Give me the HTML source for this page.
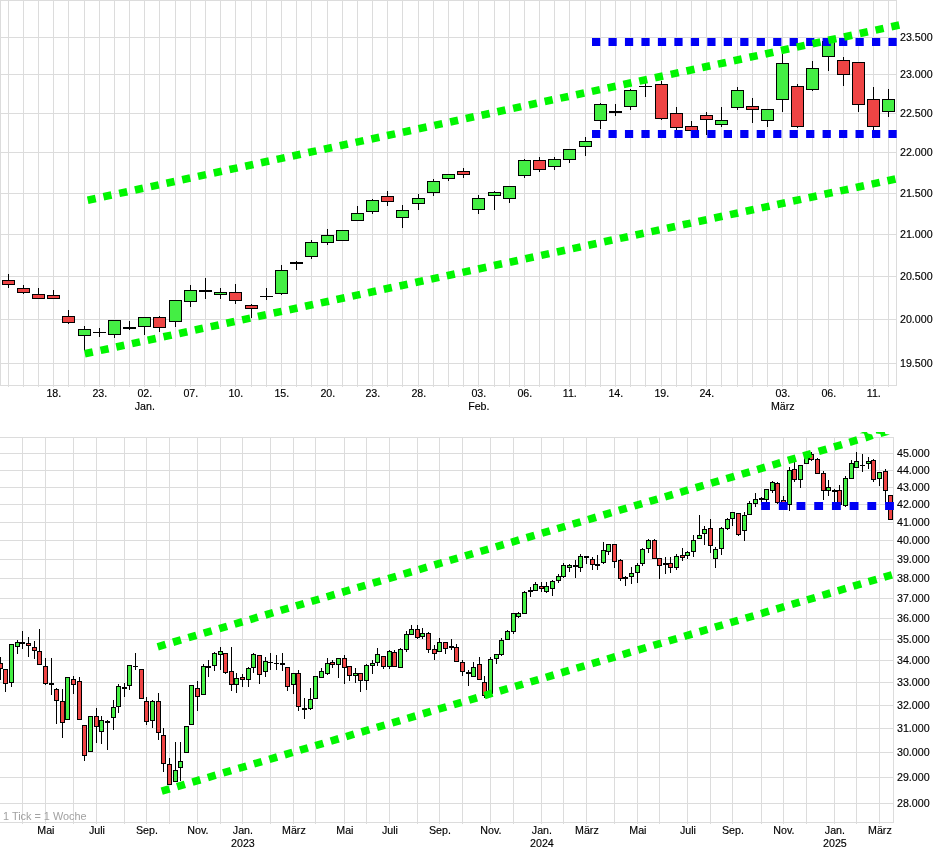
<!DOCTYPE html>
<html><head><meta charset="utf-8"><title>Chart</title>
<style>html,body{margin:0;padding:0;background:#fff}svg{display:block}</style></head>
<body><svg width="941" height="856" viewBox="0 0 941 856">
<rect width="941" height="856" fill="#fff"/>
<g shape-rendering="crispEdges">
<rect x="8" y="0" width="1" height="387" fill="#dcdcdc"/>
<rect x="23" y="0" width="1" height="387" fill="#dcdcdc"/>
<rect x="38" y="0" width="1" height="387" fill="#dcdcdc"/>
<rect x="53" y="0" width="1" height="387" fill="#dcdcdc"/>
<rect x="68" y="0" width="1" height="387" fill="#dcdcdc"/>
<rect x="84" y="0" width="1" height="387" fill="#dcdcdc"/>
<rect x="99" y="0" width="1" height="387" fill="#dcdcdc"/>
<rect x="114" y="0" width="1" height="387" fill="#dcdcdc"/>
<rect x="129" y="0" width="1" height="387" fill="#dcdcdc"/>
<rect x="144" y="0" width="1" height="387" fill="#dcdcdc"/>
<rect x="159" y="0" width="1" height="387" fill="#dcdcdc"/>
<rect x="175" y="0" width="1" height="387" fill="#dcdcdc"/>
<rect x="190" y="0" width="1" height="387" fill="#dcdcdc"/>
<rect x="205" y="0" width="1" height="387" fill="#dcdcdc"/>
<rect x="220" y="0" width="1" height="387" fill="#dcdcdc"/>
<rect x="235" y="0" width="1" height="387" fill="#dcdcdc"/>
<rect x="251" y="0" width="1" height="387" fill="#dcdcdc"/>
<rect x="266" y="0" width="1" height="387" fill="#dcdcdc"/>
<rect x="281" y="0" width="1" height="387" fill="#dcdcdc"/>
<rect x="296" y="0" width="1" height="387" fill="#dcdcdc"/>
<rect x="311" y="0" width="1" height="387" fill="#dcdcdc"/>
<rect x="327" y="0" width="1" height="387" fill="#dcdcdc"/>
<rect x="342" y="0" width="1" height="387" fill="#dcdcdc"/>
<rect x="357" y="0" width="1" height="387" fill="#dcdcdc"/>
<rect x="372" y="0" width="1" height="387" fill="#dcdcdc"/>
<rect x="387" y="0" width="1" height="387" fill="#dcdcdc"/>
<rect x="402" y="0" width="1" height="387" fill="#dcdcdc"/>
<rect x="418" y="0" width="1" height="387" fill="#dcdcdc"/>
<rect x="433" y="0" width="1" height="387" fill="#dcdcdc"/>
<rect x="448" y="0" width="1" height="387" fill="#dcdcdc"/>
<rect x="463" y="0" width="1" height="387" fill="#dcdcdc"/>
<rect x="478" y="0" width="1" height="387" fill="#dcdcdc"/>
<rect x="494" y="0" width="1" height="387" fill="#dcdcdc"/>
<rect x="509" y="0" width="1" height="387" fill="#dcdcdc"/>
<rect x="524" y="0" width="1" height="387" fill="#dcdcdc"/>
<rect x="539" y="0" width="1" height="387" fill="#dcdcdc"/>
<rect x="554" y="0" width="1" height="387" fill="#dcdcdc"/>
<rect x="569" y="0" width="1" height="387" fill="#dcdcdc"/>
<rect x="585" y="0" width="1" height="387" fill="#dcdcdc"/>
<rect x="600" y="0" width="1" height="387" fill="#dcdcdc"/>
<rect x="615" y="0" width="1" height="387" fill="#dcdcdc"/>
<rect x="630" y="0" width="1" height="387" fill="#dcdcdc"/>
<rect x="645" y="0" width="1" height="387" fill="#dcdcdc"/>
<rect x="661" y="0" width="1" height="387" fill="#dcdcdc"/>
<rect x="676" y="0" width="1" height="387" fill="#dcdcdc"/>
<rect x="691" y="0" width="1" height="387" fill="#dcdcdc"/>
<rect x="706" y="0" width="1" height="387" fill="#dcdcdc"/>
<rect x="721" y="0" width="1" height="387" fill="#dcdcdc"/>
<rect x="737" y="0" width="1" height="387" fill="#dcdcdc"/>
<rect x="752" y="0" width="1" height="387" fill="#dcdcdc"/>
<rect x="767" y="0" width="1" height="387" fill="#dcdcdc"/>
<rect x="782" y="0" width="1" height="387" fill="#dcdcdc"/>
<rect x="797" y="0" width="1" height="387" fill="#dcdcdc"/>
<rect x="812" y="0" width="1" height="387" fill="#dcdcdc"/>
<rect x="828" y="0" width="1" height="387" fill="#dcdcdc"/>
<rect x="843" y="0" width="1" height="387" fill="#dcdcdc"/>
<rect x="858" y="0" width="1" height="387" fill="#dcdcdc"/>
<rect x="873" y="0" width="1" height="387" fill="#dcdcdc"/>
<rect x="888" y="0" width="1" height="387" fill="#dcdcdc"/>
<rect x="0" y="37" width="897" height="1" fill="#dcdcdc"/>
<rect x="0" y="74" width="897" height="1" fill="#dcdcdc"/>
<rect x="0" y="113" width="897" height="1" fill="#dcdcdc"/>
<rect x="0" y="152" width="897" height="1" fill="#dcdcdc"/>
<rect x="0" y="193" width="897" height="1" fill="#dcdcdc"/>
<rect x="0" y="234" width="897" height="1" fill="#dcdcdc"/>
<rect x="0" y="276" width="897" height="1" fill="#dcdcdc"/>
<rect x="0" y="319" width="897" height="1" fill="#dcdcdc"/>
<rect x="0" y="363" width="897" height="1" fill="#dcdcdc"/>
<rect x="0" y="0" width="897" height="1" fill="#dcdcdc"/>
<rect x="0" y="385" width="897" height="1" fill="#dcdcdc"/>
<rect x="0" y="0" width="1" height="386" fill="#dcdcdc"/>
<rect x="896" y="0" width="1" height="386" fill="#dcdcdc"/>
<rect x="8" y="274" width="1" height="14" fill="#000"/>
<rect x="2" y="280" width="13" height="5" fill="#000"/>
<rect x="3" y="281" width="11" height="3" fill="#ee4444"/>
<rect x="23" y="285" width="1" height="9" fill="#000"/>
<rect x="17" y="288" width="13" height="5" fill="#000"/>
<rect x="18" y="289" width="11" height="3" fill="#ee4444"/>
<rect x="38" y="288" width="1" height="11" fill="#000"/>
<rect x="32" y="294" width="13" height="5" fill="#000"/>
<rect x="33" y="295" width="11" height="3" fill="#ee4444"/>
<rect x="53" y="290" width="1" height="9" fill="#000"/>
<rect x="47" y="295" width="13" height="4" fill="#000"/>
<rect x="48" y="296" width="11" height="2" fill="#ee4444"/>
<rect x="68" y="310" width="1" height="14" fill="#000"/>
<rect x="62" y="316" width="13" height="7" fill="#000"/>
<rect x="63" y="317" width="11" height="5" fill="#ee4444"/>
<rect x="84" y="326" width="1" height="25" fill="#000"/>
<rect x="78" y="329" width="13" height="7" fill="#000"/>
<rect x="79" y="330" width="11" height="5" fill="#44ee44"/>
<rect x="99" y="328" width="1" height="9" fill="#000"/>
<rect x="93" y="332" width="13" height="1" fill="#000"/>
<rect x="114" y="320" width="1" height="18" fill="#000"/>
<rect x="108" y="320" width="13" height="15" fill="#000"/>
<rect x="109" y="321" width="11" height="13" fill="#44ee44"/>
<rect x="129" y="321" width="1" height="9" fill="#000"/>
<rect x="123" y="327" width="13" height="2" fill="#000"/>
<rect x="144" y="317" width="1" height="18" fill="#000"/>
<rect x="138" y="317" width="13" height="10" fill="#000"/>
<rect x="139" y="318" width="11" height="8" fill="#44ee44"/>
<rect x="159" y="316" width="1" height="16" fill="#000"/>
<rect x="153" y="317" width="13" height="11" fill="#000"/>
<rect x="154" y="318" width="11" height="9" fill="#ee4444"/>
<rect x="175" y="300" width="1" height="27" fill="#000"/>
<rect x="169" y="300" width="13" height="22" fill="#000"/>
<rect x="170" y="301" width="11" height="20" fill="#44ee44"/>
<rect x="190" y="285" width="1" height="22" fill="#000"/>
<rect x="184" y="290" width="13" height="12" fill="#000"/>
<rect x="185" y="291" width="11" height="10" fill="#44ee44"/>
<rect x="205" y="278" width="1" height="21" fill="#000"/>
<rect x="199" y="290" width="13" height="2" fill="#000"/>
<rect x="220" y="288" width="1" height="11" fill="#000"/>
<rect x="214" y="292" width="13" height="3" fill="#000"/>
<rect x="215" y="293" width="11" height="1" fill="#44ee44"/>
<rect x="235" y="284" width="1" height="20" fill="#000"/>
<rect x="229" y="292" width="13" height="9" fill="#000"/>
<rect x="230" y="293" width="11" height="7" fill="#ee4444"/>
<rect x="251" y="304" width="1" height="14" fill="#000"/>
<rect x="245" y="305" width="13" height="4" fill="#000"/>
<rect x="246" y="306" width="11" height="2" fill="#ee4444"/>
<rect x="266" y="288" width="1" height="12" fill="#000"/>
<rect x="260" y="296" width="13" height="1" fill="#000"/>
<rect x="281" y="265" width="1" height="30" fill="#000"/>
<rect x="275" y="270" width="13" height="24" fill="#000"/>
<rect x="276" y="271" width="11" height="22" fill="#44ee44"/>
<rect x="296" y="261" width="1" height="9" fill="#000"/>
<rect x="290" y="262" width="13" height="2" fill="#000"/>
<rect x="311" y="240" width="1" height="19" fill="#000"/>
<rect x="305" y="242" width="13" height="15" fill="#000"/>
<rect x="306" y="243" width="11" height="13" fill="#44ee44"/>
<rect x="327" y="229" width="1" height="16" fill="#000"/>
<rect x="321" y="235" width="13" height="8" fill="#000"/>
<rect x="322" y="236" width="11" height="6" fill="#44ee44"/>
<rect x="342" y="230" width="1" height="11" fill="#000"/>
<rect x="336" y="230" width="13" height="11" fill="#000"/>
<rect x="337" y="231" width="11" height="9" fill="#44ee44"/>
<rect x="357" y="206" width="1" height="15" fill="#000"/>
<rect x="351" y="213" width="13" height="8" fill="#000"/>
<rect x="352" y="214" width="11" height="6" fill="#44ee44"/>
<rect x="372" y="199" width="1" height="15" fill="#000"/>
<rect x="366" y="200" width="13" height="12" fill="#000"/>
<rect x="367" y="201" width="11" height="10" fill="#44ee44"/>
<rect x="387" y="191" width="1" height="15" fill="#000"/>
<rect x="381" y="196" width="13" height="6" fill="#000"/>
<rect x="382" y="197" width="11" height="4" fill="#ee4444"/>
<rect x="402" y="205" width="1" height="23" fill="#000"/>
<rect x="396" y="210" width="13" height="8" fill="#000"/>
<rect x="397" y="211" width="11" height="6" fill="#44ee44"/>
<rect x="418" y="194" width="1" height="16" fill="#000"/>
<rect x="412" y="198" width="13" height="6" fill="#000"/>
<rect x="413" y="199" width="11" height="4" fill="#44ee44"/>
<rect x="433" y="179" width="1" height="17" fill="#000"/>
<rect x="427" y="181" width="13" height="12" fill="#000"/>
<rect x="428" y="182" width="11" height="10" fill="#44ee44"/>
<rect x="448" y="174" width="1" height="7" fill="#000"/>
<rect x="442" y="174" width="13" height="5" fill="#000"/>
<rect x="443" y="175" width="11" height="3" fill="#44ee44"/>
<rect x="463" y="168" width="1" height="10" fill="#000"/>
<rect x="457" y="171" width="13" height="4" fill="#000"/>
<rect x="458" y="172" width="11" height="2" fill="#ee4444"/>
<rect x="478" y="195" width="1" height="19" fill="#000"/>
<rect x="472" y="198" width="13" height="12" fill="#000"/>
<rect x="473" y="199" width="11" height="10" fill="#44ee44"/>
<rect x="494" y="191" width="1" height="19" fill="#000"/>
<rect x="488" y="192" width="13" height="4" fill="#000"/>
<rect x="489" y="193" width="11" height="2" fill="#44ee44"/>
<rect x="509" y="186" width="1" height="17" fill="#000"/>
<rect x="503" y="186" width="13" height="13" fill="#000"/>
<rect x="504" y="187" width="11" height="11" fill="#44ee44"/>
<rect x="524" y="159" width="1" height="19" fill="#000"/>
<rect x="518" y="160" width="13" height="16" fill="#000"/>
<rect x="519" y="161" width="11" height="14" fill="#44ee44"/>
<rect x="539" y="157" width="1" height="15" fill="#000"/>
<rect x="533" y="160" width="13" height="10" fill="#000"/>
<rect x="534" y="161" width="11" height="8" fill="#ee4444"/>
<rect x="554" y="157" width="1" height="13" fill="#000"/>
<rect x="548" y="159" width="13" height="8" fill="#000"/>
<rect x="549" y="160" width="11" height="6" fill="#44ee44"/>
<rect x="569" y="149" width="1" height="14" fill="#000"/>
<rect x="563" y="149" width="13" height="11" fill="#000"/>
<rect x="564" y="150" width="11" height="9" fill="#44ee44"/>
<rect x="585" y="137" width="1" height="19" fill="#000"/>
<rect x="579" y="141" width="13" height="6" fill="#000"/>
<rect x="580" y="142" width="11" height="4" fill="#44ee44"/>
<rect x="600" y="103" width="1" height="26" fill="#000"/>
<rect x="594" y="104" width="13" height="17" fill="#000"/>
<rect x="595" y="105" width="11" height="15" fill="#44ee44"/>
<rect x="615" y="104" width="1" height="12" fill="#000"/>
<rect x="609" y="111" width="13" height="2" fill="#000"/>
<rect x="630" y="89" width="1" height="21" fill="#000"/>
<rect x="624" y="90" width="13" height="17" fill="#000"/>
<rect x="625" y="91" width="11" height="15" fill="#44ee44"/>
<rect x="645" y="83" width="1" height="14" fill="#000"/>
<rect x="639" y="86" width="13" height="1" fill="#000"/>
<rect x="661" y="81" width="1" height="39" fill="#000"/>
<rect x="655" y="84" width="13" height="35" fill="#000"/>
<rect x="656" y="85" width="11" height="33" fill="#ee4444"/>
<rect x="676" y="107" width="1" height="23" fill="#000"/>
<rect x="670" y="113" width="13" height="15" fill="#000"/>
<rect x="671" y="114" width="11" height="13" fill="#ee4444"/>
<rect x="691" y="121" width="1" height="10" fill="#000"/>
<rect x="685" y="126" width="13" height="5" fill="#000"/>
<rect x="686" y="127" width="11" height="3" fill="#ee4444"/>
<rect x="706" y="112" width="1" height="23" fill="#000"/>
<rect x="700" y="115" width="13" height="5" fill="#000"/>
<rect x="701" y="116" width="11" height="3" fill="#ee4444"/>
<rect x="721" y="107" width="1" height="20" fill="#000"/>
<rect x="715" y="120" width="13" height="5" fill="#000"/>
<rect x="716" y="121" width="11" height="3" fill="#44ee44"/>
<rect x="737" y="87" width="1" height="23" fill="#000"/>
<rect x="731" y="90" width="13" height="18" fill="#000"/>
<rect x="732" y="91" width="11" height="16" fill="#44ee44"/>
<rect x="752" y="98" width="1" height="25" fill="#000"/>
<rect x="746" y="106" width="13" height="4" fill="#000"/>
<rect x="747" y="107" width="11" height="2" fill="#ee4444"/>
<rect x="767" y="109" width="1" height="18" fill="#000"/>
<rect x="761" y="109" width="13" height="12" fill="#000"/>
<rect x="762" y="110" width="11" height="10" fill="#44ee44"/>
<rect x="782" y="53" width="1" height="59" fill="#000"/>
<rect x="776" y="63" width="13" height="37" fill="#000"/>
<rect x="777" y="64" width="11" height="35" fill="#44ee44"/>
<rect x="797" y="84" width="1" height="44" fill="#000"/>
<rect x="791" y="86" width="13" height="41" fill="#000"/>
<rect x="792" y="87" width="11" height="39" fill="#ee4444"/>
<rect x="812" y="61" width="1" height="30" fill="#000"/>
<rect x="806" y="68" width="13" height="22" fill="#000"/>
<rect x="807" y="69" width="11" height="20" fill="#44ee44"/>
<rect x="828" y="41" width="1" height="30" fill="#000"/>
<rect x="822" y="41" width="13" height="16" fill="#000"/>
<rect x="823" y="42" width="11" height="14" fill="#44ee44"/>
<rect x="843" y="57" width="1" height="29" fill="#000"/>
<rect x="837" y="60" width="13" height="15" fill="#000"/>
<rect x="838" y="61" width="11" height="13" fill="#ee4444"/>
<rect x="858" y="62" width="1" height="50" fill="#000"/>
<rect x="852" y="62" width="13" height="43" fill="#000"/>
<rect x="853" y="63" width="11" height="41" fill="#ee4444"/>
<rect x="873" y="87" width="1" height="43" fill="#000"/>
<rect x="867" y="99" width="13" height="28" fill="#000"/>
<rect x="868" y="100" width="11" height="26" fill="#ee4444"/>
<rect x="888" y="89" width="1" height="28" fill="#000"/>
<rect x="882" y="99" width="13" height="13" fill="#000"/>
<rect x="883" y="100" width="11" height="11" fill="#44ee44"/>
</g>
<g shape-rendering="crispEdges">
<rect x="22" y="437" width="1" height="387" fill="#dcdcdc"/>
<rect x="45" y="437" width="1" height="387" fill="#dcdcdc"/>
<rect x="73" y="437" width="1" height="387" fill="#dcdcdc"/>
<rect x="96" y="437" width="1" height="387" fill="#dcdcdc"/>
<rect x="124" y="437" width="1" height="387" fill="#dcdcdc"/>
<rect x="146" y="437" width="1" height="387" fill="#dcdcdc"/>
<rect x="169" y="437" width="1" height="387" fill="#dcdcdc"/>
<rect x="197" y="437" width="1" height="387" fill="#dcdcdc"/>
<rect x="220" y="437" width="1" height="387" fill="#dcdcdc"/>
<rect x="242" y="437" width="1" height="387" fill="#dcdcdc"/>
<rect x="270" y="437" width="1" height="387" fill="#dcdcdc"/>
<rect x="293" y="437" width="1" height="387" fill="#dcdcdc"/>
<rect x="315" y="437" width="1" height="387" fill="#dcdcdc"/>
<rect x="344" y="437" width="1" height="387" fill="#dcdcdc"/>
<rect x="366" y="437" width="1" height="387" fill="#dcdcdc"/>
<rect x="389" y="437" width="1" height="387" fill="#dcdcdc"/>
<rect x="417" y="437" width="1" height="387" fill="#dcdcdc"/>
<rect x="439" y="437" width="1" height="387" fill="#dcdcdc"/>
<rect x="462" y="437" width="1" height="387" fill="#dcdcdc"/>
<rect x="490" y="437" width="1" height="387" fill="#dcdcdc"/>
<rect x="513" y="437" width="1" height="387" fill="#dcdcdc"/>
<rect x="541" y="437" width="1" height="387" fill="#dcdcdc"/>
<rect x="563" y="437" width="1" height="387" fill="#dcdcdc"/>
<rect x="586" y="437" width="1" height="387" fill="#dcdcdc"/>
<rect x="614" y="437" width="1" height="387" fill="#dcdcdc"/>
<rect x="637" y="437" width="1" height="387" fill="#dcdcdc"/>
<rect x="659" y="437" width="1" height="387" fill="#dcdcdc"/>
<rect x="687" y="437" width="1" height="387" fill="#dcdcdc"/>
<rect x="710" y="437" width="1" height="387" fill="#dcdcdc"/>
<rect x="732" y="437" width="1" height="387" fill="#dcdcdc"/>
<rect x="761" y="437" width="1" height="387" fill="#dcdcdc"/>
<rect x="783" y="437" width="1" height="387" fill="#dcdcdc"/>
<rect x="806" y="437" width="1" height="387" fill="#dcdcdc"/>
<rect x="834" y="437" width="1" height="387" fill="#dcdcdc"/>
<rect x="856" y="437" width="1" height="387" fill="#dcdcdc"/>
<rect x="879" y="437" width="1" height="387" fill="#dcdcdc"/>
<rect x="0" y="453" width="894" height="1" fill="#dcdcdc"/>
<rect x="0" y="470" width="894" height="1" fill="#dcdcdc"/>
<rect x="0" y="487" width="894" height="1" fill="#dcdcdc"/>
<rect x="0" y="504" width="894" height="1" fill="#dcdcdc"/>
<rect x="0" y="522" width="894" height="1" fill="#dcdcdc"/>
<rect x="0" y="540" width="894" height="1" fill="#dcdcdc"/>
<rect x="0" y="559" width="894" height="1" fill="#dcdcdc"/>
<rect x="0" y="578" width="894" height="1" fill="#dcdcdc"/>
<rect x="0" y="598" width="894" height="1" fill="#dcdcdc"/>
<rect x="0" y="618" width="894" height="1" fill="#dcdcdc"/>
<rect x="0" y="639" width="894" height="1" fill="#dcdcdc"/>
<rect x="0" y="660" width="894" height="1" fill="#dcdcdc"/>
<rect x="0" y="682" width="894" height="1" fill="#dcdcdc"/>
<rect x="0" y="705" width="894" height="1" fill="#dcdcdc"/>
<rect x="0" y="728" width="894" height="1" fill="#dcdcdc"/>
<rect x="0" y="752" width="894" height="1" fill="#dcdcdc"/>
<rect x="0" y="777" width="894" height="1" fill="#dcdcdc"/>
<rect x="0" y="803" width="894" height="1" fill="#dcdcdc"/>
<rect x="0" y="437" width="894" height="1" fill="#dcdcdc"/>
<rect x="0" y="822" width="894" height="1" fill="#dcdcdc"/>
<rect x="893" y="437" width="1" height="386" fill="#dcdcdc"/>
<rect x="0" y="657" width="1" height="23" fill="#000"/>
<rect x="-2" y="663" width="5" height="6" fill="#000"/>
<rect x="-1" y="664" width="3" height="4" fill="#ee4444"/>
<rect x="5" y="669" width="1" height="23" fill="#000"/>
<rect x="3" y="669" width="5" height="15" fill="#000"/>
<rect x="4" y="670" width="3" height="13" fill="#ee4444"/>
<rect x="11" y="644" width="1" height="43" fill="#000"/>
<rect x="9" y="644" width="5" height="39" fill="#000"/>
<rect x="10" y="645" width="3" height="37" fill="#44ee44"/>
<rect x="17" y="640" width="1" height="14" fill="#000"/>
<rect x="15" y="642" width="5" height="5" fill="#000"/>
<rect x="16" y="643" width="3" height="3" fill="#44ee44"/>
<rect x="22" y="631" width="1" height="18" fill="#000"/>
<rect x="20" y="642" width="5" height="2" fill="#000"/>
<rect x="28" y="637" width="1" height="20" fill="#000"/>
<rect x="26" y="643" width="5" height="3" fill="#000"/>
<rect x="27" y="644" width="3" height="1" fill="#ee4444"/>
<rect x="34" y="641" width="1" height="18" fill="#000"/>
<rect x="32" y="647" width="5" height="4" fill="#000"/>
<rect x="33" y="648" width="3" height="2" fill="#ee4444"/>
<rect x="39" y="629" width="1" height="36" fill="#000"/>
<rect x="37" y="651" width="5" height="14" fill="#000"/>
<rect x="38" y="652" width="3" height="12" fill="#ee4444"/>
<rect x="45" y="658" width="1" height="27" fill="#000"/>
<rect x="43" y="666" width="5" height="18" fill="#000"/>
<rect x="44" y="667" width="3" height="16" fill="#ee4444"/>
<rect x="51" y="658" width="1" height="37" fill="#000"/>
<rect x="49" y="683" width="5" height="2" fill="#000"/>
<rect x="56" y="688" width="1" height="36" fill="#000"/>
<rect x="54" y="689" width="5" height="12" fill="#000"/>
<rect x="55" y="690" width="3" height="10" fill="#ee4444"/>
<rect x="62" y="689" width="1" height="49" fill="#000"/>
<rect x="60" y="701" width="5" height="22" fill="#000"/>
<rect x="61" y="702" width="3" height="20" fill="#ee4444"/>
<rect x="67" y="677" width="1" height="43" fill="#000"/>
<rect x="65" y="677" width="5" height="43" fill="#000"/>
<rect x="66" y="678" width="3" height="41" fill="#44ee44"/>
<rect x="73" y="676" width="1" height="18" fill="#000"/>
<rect x="71" y="679" width="5" height="6" fill="#000"/>
<rect x="72" y="680" width="3" height="4" fill="#ee4444"/>
<rect x="79" y="677" width="1" height="43" fill="#000"/>
<rect x="77" y="681" width="5" height="39" fill="#000"/>
<rect x="78" y="682" width="3" height="37" fill="#ee4444"/>
<rect x="84" y="725" width="1" height="36" fill="#000"/>
<rect x="82" y="725" width="5" height="31" fill="#000"/>
<rect x="83" y="726" width="3" height="29" fill="#ee4444"/>
<rect x="90" y="716" width="1" height="36" fill="#000"/>
<rect x="88" y="716" width="5" height="36" fill="#000"/>
<rect x="89" y="717" width="3" height="34" fill="#44ee44"/>
<rect x="96" y="708" width="1" height="35" fill="#000"/>
<rect x="94" y="716" width="5" height="11" fill="#000"/>
<rect x="95" y="717" width="3" height="9" fill="#ee4444"/>
<rect x="101" y="716" width="1" height="28" fill="#000"/>
<rect x="99" y="720" width="5" height="12" fill="#000"/>
<rect x="100" y="721" width="3" height="10" fill="#44ee44"/>
<rect x="107" y="720" width="1" height="30" fill="#000"/>
<rect x="105" y="721" width="5" height="2" fill="#000"/>
<rect x="113" y="700" width="1" height="30" fill="#000"/>
<rect x="111" y="707" width="5" height="11" fill="#000"/>
<rect x="112" y="708" width="3" height="9" fill="#44ee44"/>
<rect x="118" y="684" width="1" height="29" fill="#000"/>
<rect x="116" y="686" width="5" height="21" fill="#000"/>
<rect x="117" y="687" width="3" height="19" fill="#44ee44"/>
<rect x="124" y="683" width="1" height="14" fill="#000"/>
<rect x="122" y="687" width="5" height="2" fill="#000"/>
<rect x="129" y="665" width="1" height="25" fill="#000"/>
<rect x="127" y="665" width="5" height="21" fill="#000"/>
<rect x="128" y="666" width="3" height="19" fill="#44ee44"/>
<rect x="135" y="653" width="1" height="17" fill="#000"/>
<rect x="133" y="666" width="5" height="1" fill="#000"/>
<rect x="141" y="669" width="1" height="30" fill="#000"/>
<rect x="139" y="669" width="5" height="30" fill="#000"/>
<rect x="140" y="670" width="3" height="28" fill="#ee4444"/>
<rect x="146" y="697" width="1" height="28" fill="#000"/>
<rect x="144" y="701" width="5" height="21" fill="#000"/>
<rect x="145" y="702" width="3" height="19" fill="#ee4444"/>
<rect x="152" y="700" width="1" height="28" fill="#000"/>
<rect x="150" y="701" width="5" height="20" fill="#000"/>
<rect x="151" y="702" width="3" height="18" fill="#44ee44"/>
<rect x="158" y="693" width="1" height="47" fill="#000"/>
<rect x="156" y="701" width="5" height="32" fill="#000"/>
<rect x="157" y="702" width="3" height="30" fill="#ee4444"/>
<rect x="163" y="728" width="1" height="44" fill="#000"/>
<rect x="161" y="735" width="5" height="29" fill="#000"/>
<rect x="162" y="736" width="3" height="27" fill="#ee4444"/>
<rect x="169" y="758" width="1" height="27" fill="#000"/>
<rect x="167" y="764" width="5" height="21" fill="#000"/>
<rect x="168" y="765" width="3" height="19" fill="#ee4444"/>
<rect x="175" y="742" width="1" height="40" fill="#000"/>
<rect x="173" y="770" width="5" height="12" fill="#000"/>
<rect x="174" y="771" width="3" height="10" fill="#44ee44"/>
<rect x="180" y="742" width="1" height="39" fill="#000"/>
<rect x="178" y="761" width="5" height="7" fill="#000"/>
<rect x="179" y="762" width="3" height="5" fill="#44ee44"/>
<rect x="186" y="726" width="1" height="27" fill="#000"/>
<rect x="184" y="726" width="5" height="27" fill="#000"/>
<rect x="185" y="727" width="3" height="25" fill="#44ee44"/>
<rect x="191" y="685" width="1" height="40" fill="#000"/>
<rect x="189" y="685" width="5" height="40" fill="#000"/>
<rect x="190" y="686" width="3" height="38" fill="#44ee44"/>
<rect x="197" y="681" width="1" height="30" fill="#000"/>
<rect x="195" y="688" width="5" height="9" fill="#000"/>
<rect x="196" y="689" width="3" height="7" fill="#ee4444"/>
<rect x="203" y="664" width="1" height="31" fill="#000"/>
<rect x="201" y="666" width="5" height="29" fill="#000"/>
<rect x="202" y="667" width="3" height="27" fill="#44ee44"/>
<rect x="208" y="660" width="1" height="17" fill="#000"/>
<rect x="206" y="666" width="5" height="2" fill="#000"/>
<rect x="214" y="652" width="1" height="19" fill="#000"/>
<rect x="212" y="653" width="5" height="13" fill="#000"/>
<rect x="213" y="654" width="3" height="11" fill="#44ee44"/>
<rect x="220" y="647" width="1" height="23" fill="#000"/>
<rect x="218" y="651" width="5" height="4" fill="#000"/>
<rect x="219" y="652" width="3" height="2" fill="#44ee44"/>
<rect x="225" y="653" width="1" height="21" fill="#000"/>
<rect x="223" y="653" width="5" height="20" fill="#000"/>
<rect x="224" y="654" width="3" height="18" fill="#ee4444"/>
<rect x="231" y="647" width="1" height="44" fill="#000"/>
<rect x="229" y="671" width="5" height="14" fill="#000"/>
<rect x="230" y="672" width="3" height="12" fill="#ee4444"/>
<rect x="236" y="673" width="1" height="20" fill="#000"/>
<rect x="234" y="678" width="5" height="7" fill="#000"/>
<rect x="235" y="679" width="3" height="5" fill="#44ee44"/>
<rect x="242" y="674" width="1" height="13" fill="#000"/>
<rect x="240" y="677" width="5" height="3" fill="#000"/>
<rect x="241" y="678" width="3" height="1" fill="#ee4444"/>
<rect x="248" y="667" width="1" height="20" fill="#000"/>
<rect x="246" y="668" width="5" height="12" fill="#000"/>
<rect x="247" y="669" width="3" height="10" fill="#44ee44"/>
<rect x="253" y="653" width="1" height="20" fill="#000"/>
<rect x="251" y="654" width="5" height="14" fill="#000"/>
<rect x="252" y="655" width="3" height="12" fill="#44ee44"/>
<rect x="259" y="655" width="1" height="29" fill="#000"/>
<rect x="257" y="655" width="5" height="20" fill="#000"/>
<rect x="258" y="656" width="3" height="18" fill="#ee4444"/>
<rect x="265" y="657" width="1" height="20" fill="#000"/>
<rect x="263" y="661" width="5" height="11" fill="#000"/>
<rect x="264" y="662" width="3" height="9" fill="#44ee44"/>
<rect x="270" y="653" width="1" height="17" fill="#000"/>
<rect x="268" y="662" width="5" height="1" fill="#000"/>
<rect x="276" y="655" width="1" height="15" fill="#000"/>
<rect x="274" y="663" width="5" height="1" fill="#000"/>
<rect x="282" y="653" width="1" height="18" fill="#000"/>
<rect x="280" y="663" width="5" height="2" fill="#000"/>
<rect x="287" y="667" width="1" height="24" fill="#000"/>
<rect x="285" y="667" width="5" height="20" fill="#000"/>
<rect x="286" y="668" width="3" height="18" fill="#ee4444"/>
<rect x="293" y="673" width="1" height="21" fill="#000"/>
<rect x="291" y="673" width="5" height="12" fill="#000"/>
<rect x="292" y="674" width="3" height="10" fill="#44ee44"/>
<rect x="298" y="670" width="1" height="41" fill="#000"/>
<rect x="296" y="673" width="5" height="34" fill="#000"/>
<rect x="297" y="674" width="3" height="32" fill="#ee4444"/>
<rect x="304" y="698" width="1" height="21" fill="#000"/>
<rect x="302" y="708" width="5" height="2" fill="#000"/>
<rect x="310" y="688" width="1" height="22" fill="#000"/>
<rect x="308" y="699" width="5" height="10" fill="#000"/>
<rect x="309" y="700" width="3" height="8" fill="#44ee44"/>
<rect x="315" y="676" width="1" height="23" fill="#000"/>
<rect x="313" y="676" width="5" height="23" fill="#000"/>
<rect x="314" y="677" width="3" height="21" fill="#44ee44"/>
<rect x="321" y="668" width="1" height="10" fill="#000"/>
<rect x="319" y="671" width="5" height="7" fill="#000"/>
<rect x="320" y="672" width="3" height="5" fill="#44ee44"/>
<rect x="327" y="658" width="1" height="17" fill="#000"/>
<rect x="325" y="663" width="5" height="11" fill="#000"/>
<rect x="326" y="664" width="3" height="9" fill="#44ee44"/>
<rect x="332" y="660" width="1" height="8" fill="#000"/>
<rect x="330" y="662" width="5" height="3" fill="#000"/>
<rect x="331" y="663" width="3" height="1" fill="#ee4444"/>
<rect x="338" y="658" width="1" height="20" fill="#000"/>
<rect x="336" y="658" width="5" height="7" fill="#000"/>
<rect x="337" y="659" width="3" height="5" fill="#44ee44"/>
<rect x="344" y="655" width="1" height="29" fill="#000"/>
<rect x="342" y="658" width="5" height="10" fill="#000"/>
<rect x="343" y="659" width="3" height="8" fill="#ee4444"/>
<rect x="349" y="666" width="1" height="15" fill="#000"/>
<rect x="347" y="666" width="5" height="10" fill="#000"/>
<rect x="348" y="667" width="3" height="8" fill="#ee4444"/>
<rect x="355" y="668" width="1" height="15" fill="#000"/>
<rect x="353" y="673" width="5" height="3" fill="#000"/>
<rect x="354" y="674" width="3" height="1" fill="#44ee44"/>
<rect x="360" y="673" width="1" height="19" fill="#000"/>
<rect x="358" y="673" width="5" height="8" fill="#000"/>
<rect x="359" y="674" width="3" height="6" fill="#ee4444"/>
<rect x="366" y="664" width="1" height="26" fill="#000"/>
<rect x="364" y="665" width="5" height="16" fill="#000"/>
<rect x="365" y="666" width="3" height="14" fill="#44ee44"/>
<rect x="372" y="660" width="1" height="14" fill="#000"/>
<rect x="370" y="663" width="5" height="3" fill="#000"/>
<rect x="371" y="664" width="3" height="1" fill="#44ee44"/>
<rect x="377" y="648" width="1" height="18" fill="#000"/>
<rect x="375" y="654" width="5" height="9" fill="#000"/>
<rect x="376" y="655" width="3" height="7" fill="#44ee44"/>
<rect x="383" y="656" width="1" height="13" fill="#000"/>
<rect x="381" y="656" width="5" height="11" fill="#000"/>
<rect x="382" y="657" width="3" height="9" fill="#ee4444"/>
<rect x="389" y="650" width="1" height="19" fill="#000"/>
<rect x="387" y="651" width="5" height="16" fill="#000"/>
<rect x="388" y="652" width="3" height="14" fill="#44ee44"/>
<rect x="394" y="650" width="1" height="17" fill="#000"/>
<rect x="392" y="652" width="5" height="15" fill="#000"/>
<rect x="393" y="653" width="3" height="13" fill="#ee4444"/>
<rect x="400" y="648" width="1" height="20" fill="#000"/>
<rect x="398" y="649" width="5" height="19" fill="#000"/>
<rect x="399" y="650" width="3" height="17" fill="#44ee44"/>
<rect x="406" y="631" width="1" height="21" fill="#000"/>
<rect x="404" y="634" width="5" height="16" fill="#000"/>
<rect x="405" y="635" width="3" height="14" fill="#44ee44"/>
<rect x="411" y="625" width="1" height="10" fill="#000"/>
<rect x="409" y="629" width="5" height="6" fill="#000"/>
<rect x="410" y="630" width="3" height="4" fill="#44ee44"/>
<rect x="417" y="625" width="1" height="14" fill="#000"/>
<rect x="415" y="629" width="5" height="9" fill="#000"/>
<rect x="416" y="630" width="3" height="7" fill="#ee4444"/>
<rect x="422" y="628" width="1" height="11" fill="#000"/>
<rect x="420" y="633" width="5" height="4" fill="#000"/>
<rect x="421" y="634" width="3" height="2" fill="#44ee44"/>
<rect x="428" y="632" width="1" height="21" fill="#000"/>
<rect x="426" y="633" width="5" height="17" fill="#000"/>
<rect x="427" y="634" width="3" height="15" fill="#ee4444"/>
<rect x="434" y="645" width="1" height="15" fill="#000"/>
<rect x="432" y="649" width="5" height="5" fill="#000"/>
<rect x="433" y="650" width="3" height="3" fill="#ee4444"/>
<rect x="439" y="638" width="1" height="14" fill="#000"/>
<rect x="437" y="642" width="5" height="10" fill="#000"/>
<rect x="438" y="643" width="3" height="8" fill="#44ee44"/>
<rect x="445" y="642" width="1" height="12" fill="#000"/>
<rect x="443" y="642" width="5" height="7" fill="#000"/>
<rect x="444" y="643" width="3" height="5" fill="#ee4444"/>
<rect x="451" y="639" width="1" height="11" fill="#000"/>
<rect x="449" y="646" width="5" height="2" fill="#000"/>
<rect x="456" y="644" width="1" height="18" fill="#000"/>
<rect x="454" y="647" width="5" height="15" fill="#000"/>
<rect x="455" y="648" width="3" height="13" fill="#ee4444"/>
<rect x="462" y="660" width="1" height="16" fill="#000"/>
<rect x="460" y="662" width="5" height="10" fill="#000"/>
<rect x="461" y="663" width="3" height="8" fill="#ee4444"/>
<rect x="468" y="670" width="1" height="16" fill="#000"/>
<rect x="466" y="672" width="5" height="2" fill="#000"/>
<rect x="473" y="662" width="1" height="15" fill="#000"/>
<rect x="471" y="667" width="5" height="10" fill="#000"/>
<rect x="472" y="668" width="3" height="8" fill="#44ee44"/>
<rect x="479" y="657" width="1" height="23" fill="#000"/>
<rect x="477" y="664" width="5" height="16" fill="#000"/>
<rect x="478" y="665" width="3" height="14" fill="#ee4444"/>
<rect x="484" y="676" width="1" height="22" fill="#000"/>
<rect x="482" y="682" width="5" height="14" fill="#000"/>
<rect x="483" y="683" width="3" height="12" fill="#ee4444"/>
<rect x="490" y="657" width="1" height="37" fill="#000"/>
<rect x="488" y="659" width="5" height="35" fill="#000"/>
<rect x="489" y="660" width="3" height="33" fill="#44ee44"/>
<rect x="496" y="654" width="1" height="10" fill="#000"/>
<rect x="494" y="654" width="5" height="5" fill="#000"/>
<rect x="495" y="655" width="3" height="3" fill="#44ee44"/>
<rect x="501" y="638" width="1" height="18" fill="#000"/>
<rect x="499" y="640" width="5" height="15" fill="#000"/>
<rect x="500" y="641" width="3" height="13" fill="#44ee44"/>
<rect x="507" y="630" width="1" height="10" fill="#000"/>
<rect x="505" y="631" width="5" height="9" fill="#000"/>
<rect x="506" y="632" width="3" height="7" fill="#44ee44"/>
<rect x="513" y="613" width="1" height="21" fill="#000"/>
<rect x="511" y="613" width="5" height="19" fill="#000"/>
<rect x="512" y="614" width="3" height="17" fill="#44ee44"/>
<rect x="518" y="612" width="1" height="6" fill="#000"/>
<rect x="516" y="613" width="5" height="4" fill="#000"/>
<rect x="517" y="614" width="3" height="2" fill="#44ee44"/>
<rect x="524" y="591" width="1" height="23" fill="#000"/>
<rect x="522" y="592" width="5" height="22" fill="#000"/>
<rect x="523" y="593" width="3" height="20" fill="#44ee44"/>
<rect x="530" y="587" width="1" height="10" fill="#000"/>
<rect x="528" y="590" width="5" height="2" fill="#000"/>
<rect x="535" y="582" width="1" height="9" fill="#000"/>
<rect x="533" y="584" width="5" height="7" fill="#000"/>
<rect x="534" y="585" width="3" height="5" fill="#44ee44"/>
<rect x="541" y="582" width="1" height="10" fill="#000"/>
<rect x="539" y="586" width="5" height="3" fill="#000"/>
<rect x="540" y="587" width="3" height="1" fill="#ee4444"/>
<rect x="546" y="582" width="1" height="11" fill="#000"/>
<rect x="544" y="586" width="5" height="6" fill="#000"/>
<rect x="545" y="587" width="3" height="4" fill="#44ee44"/>
<rect x="552" y="580" width="1" height="16" fill="#000"/>
<rect x="550" y="581" width="5" height="8" fill="#000"/>
<rect x="551" y="582" width="3" height="6" fill="#44ee44"/>
<rect x="558" y="574" width="1" height="9" fill="#000"/>
<rect x="556" y="576" width="5" height="5" fill="#000"/>
<rect x="557" y="577" width="3" height="3" fill="#44ee44"/>
<rect x="563" y="563" width="1" height="15" fill="#000"/>
<rect x="561" y="565" width="5" height="12" fill="#000"/>
<rect x="562" y="566" width="3" height="10" fill="#44ee44"/>
<rect x="569" y="564" width="1" height="8" fill="#000"/>
<rect x="567" y="565" width="5" height="3" fill="#000"/>
<rect x="568" y="566" width="3" height="1" fill="#44ee44"/>
<rect x="575" y="560" width="1" height="18" fill="#000"/>
<rect x="573" y="565" width="5" height="2" fill="#000"/>
<rect x="580" y="554" width="1" height="18" fill="#000"/>
<rect x="578" y="556" width="5" height="12" fill="#000"/>
<rect x="579" y="557" width="3" height="10" fill="#44ee44"/>
<rect x="586" y="556" width="1" height="8" fill="#000"/>
<rect x="584" y="556" width="5" height="2" fill="#000"/>
<rect x="592" y="557" width="1" height="13" fill="#000"/>
<rect x="590" y="559" width="5" height="6" fill="#000"/>
<rect x="591" y="560" width="3" height="4" fill="#ee4444"/>
<rect x="597" y="555" width="1" height="15" fill="#000"/>
<rect x="595" y="564" width="5" height="2" fill="#000"/>
<rect x="603" y="542" width="1" height="22" fill="#000"/>
<rect x="601" y="550" width="5" height="13" fill="#000"/>
<rect x="602" y="551" width="3" height="11" fill="#44ee44"/>
<rect x="608" y="544" width="1" height="11" fill="#000"/>
<rect x="606" y="544" width="5" height="8" fill="#000"/>
<rect x="607" y="545" width="3" height="6" fill="#44ee44"/>
<rect x="614" y="544" width="1" height="24" fill="#000"/>
<rect x="612" y="544" width="5" height="18" fill="#000"/>
<rect x="613" y="545" width="3" height="16" fill="#ee4444"/>
<rect x="620" y="559" width="1" height="22" fill="#000"/>
<rect x="618" y="560" width="5" height="19" fill="#000"/>
<rect x="619" y="561" width="3" height="17" fill="#ee4444"/>
<rect x="625" y="576" width="1" height="10" fill="#000"/>
<rect x="623" y="577" width="5" height="2" fill="#000"/>
<rect x="631" y="567" width="1" height="17" fill="#000"/>
<rect x="629" y="573" width="5" height="4" fill="#000"/>
<rect x="630" y="574" width="3" height="2" fill="#44ee44"/>
<rect x="637" y="563" width="1" height="20" fill="#000"/>
<rect x="635" y="565" width="5" height="8" fill="#000"/>
<rect x="636" y="566" width="3" height="6" fill="#44ee44"/>
<rect x="642" y="548" width="1" height="18" fill="#000"/>
<rect x="640" y="549" width="5" height="15" fill="#000"/>
<rect x="641" y="550" width="3" height="13" fill="#44ee44"/>
<rect x="648" y="539" width="1" height="14" fill="#000"/>
<rect x="646" y="540" width="5" height="9" fill="#000"/>
<rect x="647" y="541" width="3" height="7" fill="#44ee44"/>
<rect x="654" y="539" width="1" height="20" fill="#000"/>
<rect x="652" y="540" width="5" height="19" fill="#000"/>
<rect x="653" y="541" width="3" height="17" fill="#ee4444"/>
<rect x="659" y="558" width="1" height="21" fill="#000"/>
<rect x="657" y="558" width="5" height="8" fill="#000"/>
<rect x="658" y="559" width="3" height="6" fill="#ee4444"/>
<rect x="665" y="557" width="1" height="17" fill="#000"/>
<rect x="663" y="563" width="5" height="2" fill="#000"/>
<rect x="670" y="557" width="1" height="16" fill="#000"/>
<rect x="668" y="563" width="5" height="5" fill="#000"/>
<rect x="669" y="564" width="3" height="3" fill="#ee4444"/>
<rect x="676" y="554" width="1" height="16" fill="#000"/>
<rect x="674" y="556" width="5" height="12" fill="#000"/>
<rect x="675" y="557" width="3" height="10" fill="#44ee44"/>
<rect x="682" y="548" width="1" height="13" fill="#000"/>
<rect x="680" y="555" width="5" height="3" fill="#000"/>
<rect x="681" y="556" width="3" height="1" fill="#ee4444"/>
<rect x="687" y="551" width="1" height="8" fill="#000"/>
<rect x="685" y="552" width="5" height="4" fill="#000"/>
<rect x="686" y="553" width="3" height="2" fill="#44ee44"/>
<rect x="693" y="535" width="1" height="22" fill="#000"/>
<rect x="691" y="540" width="5" height="12" fill="#000"/>
<rect x="692" y="541" width="3" height="10" fill="#44ee44"/>
<rect x="699" y="515" width="1" height="24" fill="#000"/>
<rect x="697" y="535" width="5" height="4" fill="#000"/>
<rect x="698" y="536" width="3" height="2" fill="#44ee44"/>
<rect x="704" y="526" width="1" height="19" fill="#000"/>
<rect x="702" y="529" width="5" height="5" fill="#000"/>
<rect x="703" y="530" width="3" height="3" fill="#44ee44"/>
<rect x="710" y="519" width="1" height="34" fill="#000"/>
<rect x="708" y="528" width="5" height="18" fill="#000"/>
<rect x="709" y="529" width="3" height="16" fill="#ee4444"/>
<rect x="715" y="547" width="1" height="21" fill="#000"/>
<rect x="713" y="549" width="5" height="10" fill="#000"/>
<rect x="714" y="550" width="3" height="8" fill="#44ee44"/>
<rect x="721" y="527" width="1" height="28" fill="#000"/>
<rect x="719" y="528" width="5" height="21" fill="#000"/>
<rect x="720" y="529" width="3" height="19" fill="#44ee44"/>
<rect x="727" y="518" width="1" height="12" fill="#000"/>
<rect x="725" y="519" width="5" height="10" fill="#000"/>
<rect x="726" y="520" width="3" height="8" fill="#44ee44"/>
<rect x="732" y="512" width="1" height="14" fill="#000"/>
<rect x="730" y="512" width="5" height="7" fill="#000"/>
<rect x="731" y="513" width="3" height="5" fill="#44ee44"/>
<rect x="738" y="513" width="1" height="23" fill="#000"/>
<rect x="736" y="513" width="5" height="22" fill="#000"/>
<rect x="737" y="514" width="3" height="20" fill="#ee4444"/>
<rect x="744" y="512" width="1" height="29" fill="#000"/>
<rect x="742" y="515" width="5" height="16" fill="#000"/>
<rect x="743" y="516" width="3" height="14" fill="#44ee44"/>
<rect x="749" y="501" width="1" height="14" fill="#000"/>
<rect x="747" y="503" width="5" height="12" fill="#000"/>
<rect x="748" y="504" width="3" height="10" fill="#44ee44"/>
<rect x="755" y="493" width="1" height="14" fill="#000"/>
<rect x="753" y="499" width="5" height="5" fill="#000"/>
<rect x="754" y="500" width="3" height="3" fill="#44ee44"/>
<rect x="761" y="497" width="1" height="8" fill="#000"/>
<rect x="759" y="498" width="5" height="2" fill="#000"/>
<rect x="766" y="489" width="1" height="13" fill="#000"/>
<rect x="764" y="489" width="5" height="11" fill="#000"/>
<rect x="765" y="490" width="3" height="9" fill="#44ee44"/>
<rect x="772" y="481" width="1" height="12" fill="#000"/>
<rect x="770" y="482" width="5" height="9" fill="#000"/>
<rect x="771" y="483" width="3" height="7" fill="#44ee44"/>
<rect x="777" y="482" width="1" height="22" fill="#000"/>
<rect x="775" y="483" width="5" height="20" fill="#000"/>
<rect x="776" y="484" width="3" height="18" fill="#ee4444"/>
<rect x="783" y="496" width="1" height="11" fill="#000"/>
<rect x="781" y="500" width="5" height="6" fill="#000"/>
<rect x="782" y="501" width="3" height="4" fill="#ee4444"/>
<rect x="789" y="467" width="1" height="44" fill="#000"/>
<rect x="787" y="470" width="5" height="35" fill="#000"/>
<rect x="788" y="471" width="3" height="33" fill="#44ee44"/>
<rect x="794" y="462" width="1" height="20" fill="#000"/>
<rect x="792" y="469" width="5" height="11" fill="#000"/>
<rect x="793" y="470" width="3" height="9" fill="#ee4444"/>
<rect x="800" y="465" width="1" height="23" fill="#000"/>
<rect x="798" y="465" width="5" height="15" fill="#000"/>
<rect x="799" y="466" width="3" height="13" fill="#44ee44"/>
<rect x="806" y="452" width="1" height="12" fill="#000"/>
<rect x="804" y="452" width="5" height="12" fill="#000"/>
<rect x="805" y="453" width="3" height="10" fill="#44ee44"/>
<rect x="811" y="452" width="1" height="9" fill="#000"/>
<rect x="809" y="454" width="5" height="6" fill="#000"/>
<rect x="810" y="455" width="3" height="4" fill="#ee4444"/>
<rect x="817" y="458" width="1" height="16" fill="#000"/>
<rect x="815" y="459" width="5" height="15" fill="#000"/>
<rect x="816" y="460" width="3" height="13" fill="#ee4444"/>
<rect x="823" y="471" width="1" height="29" fill="#000"/>
<rect x="821" y="473" width="5" height="18" fill="#000"/>
<rect x="822" y="474" width="3" height="16" fill="#ee4444"/>
<rect x="828" y="480" width="1" height="16" fill="#000"/>
<rect x="826" y="487" width="5" height="4" fill="#000"/>
<rect x="827" y="488" width="3" height="2" fill="#44ee44"/>
<rect x="834" y="489" width="1" height="14" fill="#000"/>
<rect x="832" y="490" width="5" height="2" fill="#000"/>
<rect x="839" y="485" width="1" height="21" fill="#000"/>
<rect x="837" y="490" width="5" height="15" fill="#000"/>
<rect x="838" y="491" width="3" height="13" fill="#ee4444"/>
<rect x="845" y="476" width="1" height="31" fill="#000"/>
<rect x="843" y="478" width="5" height="28" fill="#000"/>
<rect x="844" y="479" width="3" height="26" fill="#44ee44"/>
<rect x="851" y="460" width="1" height="19" fill="#000"/>
<rect x="849" y="463" width="5" height="16" fill="#000"/>
<rect x="850" y="464" width="3" height="14" fill="#44ee44"/>
<rect x="856" y="452" width="1" height="16" fill="#000"/>
<rect x="854" y="461" width="5" height="7" fill="#000"/>
<rect x="855" y="462" width="3" height="5" fill="#44ee44"/>
<rect x="862" y="454" width="1" height="18" fill="#000"/>
<rect x="860" y="465" width="5" height="1" fill="#000"/>
<rect x="868" y="457" width="1" height="12" fill="#000"/>
<rect x="866" y="461" width="5" height="3" fill="#000"/>
<rect x="867" y="462" width="3" height="1" fill="#44ee44"/>
<rect x="873" y="459" width="1" height="23" fill="#000"/>
<rect x="871" y="460" width="5" height="20" fill="#000"/>
<rect x="872" y="461" width="3" height="18" fill="#ee4444"/>
<rect x="879" y="472" width="1" height="14" fill="#000"/>
<rect x="877" y="472" width="5" height="7" fill="#000"/>
<rect x="878" y="473" width="3" height="5" fill="#44ee44"/>
<rect x="885" y="469" width="1" height="35" fill="#000"/>
<rect x="883" y="471" width="5" height="20" fill="#000"/>
<rect x="884" y="472" width="3" height="18" fill="#ee4444"/>
<rect x="890" y="495" width="1" height="25" fill="#000"/>
<rect x="888" y="495" width="5" height="25" fill="#000"/>
<rect x="889" y="496" width="3" height="23" fill="#ee4444"/>
</g>
<line x1="592" y1="42" x2="897" y2="42" stroke="#0000f5" stroke-width="8" stroke-dasharray="8.24 8.23" />
<line x1="592" y1="134" x2="897" y2="134" stroke="#0000f5" stroke-width="8" stroke-dasharray="8.24 8.23" />
<line x1="87.7" y1="200.2" x2="899.3" y2="25.0" stroke="#00f500" stroke-width="7.6" stroke-dasharray="8.2 7.92" />
<line x1="84.8" y1="353.8" x2="895.4" y2="179.0" stroke="#00f500" stroke-width="7.6" stroke-dasharray="8.2 7.9" />
<line x1="761.1" y1="506" x2="895" y2="506" stroke="#0000f5" stroke-width="8" stroke-dasharray="8.85 8.86" />
<clipPath id="cb"><rect x="0" y="432" width="941" height="424"/></clipPath>
<line x1="157.7" y1="646.8" x2="858.729" y2="439.56149999999997" stroke="#00f500" stroke-width="7.6" stroke-dasharray="8.2 7.83" clip-path="url(#cb)"/>
<polygon fill="#00f500" points="859.6,433.3 862.8,432.1 866.9,431.9 867.9,433.6 872.0,434.4 873.7,438.7 866.3,441.5 864.3,434.6 863.7,433.5"/>
<polygon fill="#00f500" points="875.8,432.1 884.8,431.9 885.4,433.9 890.0,434.6 881.25,437.0 880.3,433.9 876.1,433.6"/>
<line x1="161.7" y1="791.2" x2="892.5" y2="574.6" stroke="#00f500" stroke-width="7.6" stroke-dasharray="8.2 7.83" />
<g font-family="Liberation Sans, Arial, sans-serif" font-size="10.67px">
<text x="900" y="41.2" text-anchor="start" fill="#000" stroke="#000" stroke-width="0.15">23.500</text>
<text x="900" y="78.2" text-anchor="start" fill="#000" stroke="#000" stroke-width="0.15">23.000</text>
<text x="900" y="117.2" text-anchor="start" fill="#000" stroke="#000" stroke-width="0.15">22.500</text>
<text x="900" y="156.2" text-anchor="start" fill="#000" stroke="#000" stroke-width="0.15">22.000</text>
<text x="900" y="197.2" text-anchor="start" fill="#000" stroke="#000" stroke-width="0.15">21.500</text>
<text x="900" y="238.2" text-anchor="start" fill="#000" stroke="#000" stroke-width="0.15">21.000</text>
<text x="900" y="280.2" text-anchor="start" fill="#000" stroke="#000" stroke-width="0.15">20.500</text>
<text x="900" y="323.2" text-anchor="start" fill="#000" stroke="#000" stroke-width="0.15">20.000</text>
<text x="900" y="367.2" text-anchor="start" fill="#000" stroke="#000" stroke-width="0.15">19.500</text>
<text x="53.8" y="397" text-anchor="middle" fill="#000" stroke="#000" stroke-width="0.15">18.</text>
<text x="99.8" y="397" text-anchor="middle" fill="#000" stroke="#000" stroke-width="0.15">23.</text>
<text x="144.8" y="397" text-anchor="middle" fill="#000" stroke="#000" stroke-width="0.15">02.</text>
<text x="190.8" y="397" text-anchor="middle" fill="#000" stroke="#000" stroke-width="0.15">07.</text>
<text x="235.8" y="397" text-anchor="middle" fill="#000" stroke="#000" stroke-width="0.15">10.</text>
<text x="281.8" y="397" text-anchor="middle" fill="#000" stroke="#000" stroke-width="0.15">15.</text>
<text x="327.8" y="397" text-anchor="middle" fill="#000" stroke="#000" stroke-width="0.15">20.</text>
<text x="372.8" y="397" text-anchor="middle" fill="#000" stroke="#000" stroke-width="0.15">23.</text>
<text x="418.8" y="397" text-anchor="middle" fill="#000" stroke="#000" stroke-width="0.15">28.</text>
<text x="478.8" y="397" text-anchor="middle" fill="#000" stroke="#000" stroke-width="0.15">03.</text>
<text x="524.8" y="397" text-anchor="middle" fill="#000" stroke="#000" stroke-width="0.15">06.</text>
<text x="569.8" y="397" text-anchor="middle" fill="#000" stroke="#000" stroke-width="0.15">11.</text>
<text x="615.8" y="397" text-anchor="middle" fill="#000" stroke="#000" stroke-width="0.15">14.</text>
<text x="661.8" y="397" text-anchor="middle" fill="#000" stroke="#000" stroke-width="0.15">19.</text>
<text x="706.8" y="397" text-anchor="middle" fill="#000" stroke="#000" stroke-width="0.15">24.</text>
<text x="782.8" y="397" text-anchor="middle" fill="#000" stroke="#000" stroke-width="0.15">03.</text>
<text x="828.8" y="397" text-anchor="middle" fill="#000" stroke="#000" stroke-width="0.15">06.</text>
<text x="873.8" y="397" text-anchor="middle" fill="#000" stroke="#000" stroke-width="0.15">11.</text>
<text x="144.8" y="409.6" text-anchor="middle" fill="#000" stroke="#000" stroke-width="0.15">Jan.</text>
<text x="478.8" y="409.6" text-anchor="middle" fill="#000" stroke="#000" stroke-width="0.15">Feb.</text>
<text x="782.8" y="409.6" text-anchor="middle" fill="#000" stroke="#000" stroke-width="0.15">März</text>
<text x="897" y="457.2" text-anchor="start" fill="#000" stroke="#000" stroke-width="0.15">45.000</text>
<text x="897" y="474.2" text-anchor="start" fill="#000" stroke="#000" stroke-width="0.15">44.000</text>
<text x="897" y="491.2" text-anchor="start" fill="#000" stroke="#000" stroke-width="0.15">43.000</text>
<text x="897" y="508.2" text-anchor="start" fill="#000" stroke="#000" stroke-width="0.15">42.000</text>
<text x="897" y="526.2" text-anchor="start" fill="#000" stroke="#000" stroke-width="0.15">41.000</text>
<text x="897" y="544.2" text-anchor="start" fill="#000" stroke="#000" stroke-width="0.15">40.000</text>
<text x="897" y="563.2" text-anchor="start" fill="#000" stroke="#000" stroke-width="0.15">39.000</text>
<text x="897" y="582.2" text-anchor="start" fill="#000" stroke="#000" stroke-width="0.15">38.000</text>
<text x="897" y="602.2" text-anchor="start" fill="#000" stroke="#000" stroke-width="0.15">37.000</text>
<text x="897" y="622.2" text-anchor="start" fill="#000" stroke="#000" stroke-width="0.15">36.000</text>
<text x="897" y="643.2" text-anchor="start" fill="#000" stroke="#000" stroke-width="0.15">35.000</text>
<text x="897" y="664.2" text-anchor="start" fill="#000" stroke="#000" stroke-width="0.15">34.000</text>
<text x="897" y="686.2" text-anchor="start" fill="#000" stroke="#000" stroke-width="0.15">33.000</text>
<text x="897" y="709.2" text-anchor="start" fill="#000" stroke="#000" stroke-width="0.15">32.000</text>
<text x="897" y="732.2" text-anchor="start" fill="#000" stroke="#000" stroke-width="0.15">31.000</text>
<text x="897" y="756.2" text-anchor="start" fill="#000" stroke="#000" stroke-width="0.15">30.000</text>
<text x="897" y="781.2" text-anchor="start" fill="#000" stroke="#000" stroke-width="0.15">29.000</text>
<text x="897" y="807.2" text-anchor="start" fill="#000" stroke="#000" stroke-width="0.15">28.000</text>
<text x="45.9" y="834" text-anchor="middle" fill="#000" stroke="#000" stroke-width="0.15">Mai</text>
<text x="96.9" y="834" text-anchor="middle" fill="#000" stroke="#000" stroke-width="0.15">Juli</text>
<text x="146.9" y="834" text-anchor="middle" fill="#000" stroke="#000" stroke-width="0.15">Sep.</text>
<text x="197.9" y="834" text-anchor="middle" fill="#000" stroke="#000" stroke-width="0.15">Nov.</text>
<text x="242.9" y="834" text-anchor="middle" fill="#000" stroke="#000" stroke-width="0.15">Jan.</text>
<text x="293.9" y="834" text-anchor="middle" fill="#000" stroke="#000" stroke-width="0.15">März</text>
<text x="344.9" y="834" text-anchor="middle" fill="#000" stroke="#000" stroke-width="0.15">Mai</text>
<text x="389.9" y="834" text-anchor="middle" fill="#000" stroke="#000" stroke-width="0.15">Juli</text>
<text x="439.9" y="834" text-anchor="middle" fill="#000" stroke="#000" stroke-width="0.15">Sep.</text>
<text x="490.9" y="834" text-anchor="middle" fill="#000" stroke="#000" stroke-width="0.15">Nov.</text>
<text x="541.9" y="834" text-anchor="middle" fill="#000" stroke="#000" stroke-width="0.15">Jan.</text>
<text x="586.9" y="834" text-anchor="middle" fill="#000" stroke="#000" stroke-width="0.15">März</text>
<text x="637.9" y="834" text-anchor="middle" fill="#000" stroke="#000" stroke-width="0.15">Mai</text>
<text x="687.9" y="834" text-anchor="middle" fill="#000" stroke="#000" stroke-width="0.15">Juli</text>
<text x="732.9" y="834" text-anchor="middle" fill="#000" stroke="#000" stroke-width="0.15">Sep.</text>
<text x="783.9" y="834" text-anchor="middle" fill="#000" stroke="#000" stroke-width="0.15">Nov.</text>
<text x="834.9" y="834" text-anchor="middle" fill="#000" stroke="#000" stroke-width="0.15">Jan.</text>
<text x="879.9" y="834" text-anchor="middle" fill="#000" stroke="#000" stroke-width="0.15">März</text>
<text x="242.9" y="846.6" text-anchor="middle" fill="#000" stroke="#000" stroke-width="0.15">2023</text>
<text x="541.9" y="846.6" text-anchor="middle" fill="#000" stroke="#000" stroke-width="0.15">2024</text>
<text x="834.9" y="846.6" text-anchor="middle" fill="#000" stroke="#000" stroke-width="0.15">2025</text>
<text x="3" y="819.5" font-size="10.9px" fill="#a2a2a2">1 Tick = 1 Woche</text>
</g>
</svg></body></html>
